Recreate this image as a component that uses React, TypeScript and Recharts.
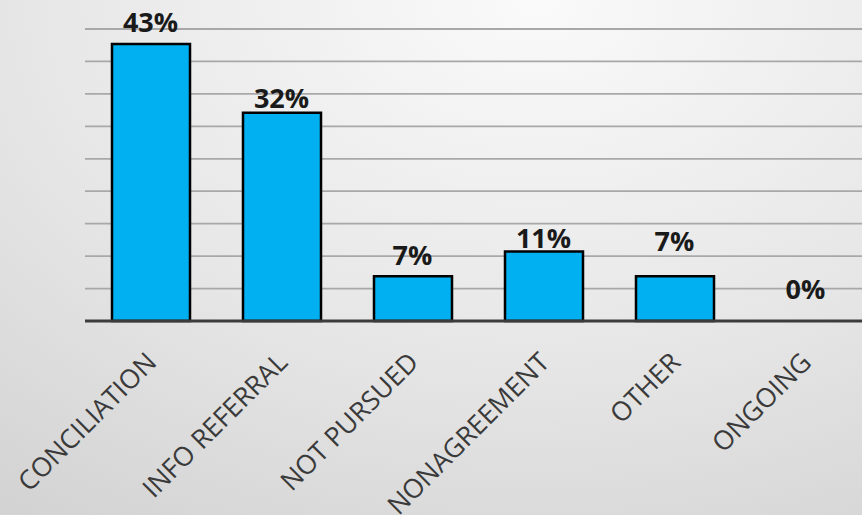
import React from "react";
import { ComposedChart, Bar, Line, XAxis, YAxis, CartesianGrid } from "recharts";

const CATEGORIES = ["CONCILIATION", "INFO REFERRAL", "NOT PURSUED", "NONAGREEMENT", "OTHER", "ONGOING"];
const SHARES = [42.7, 32.1, 6.9, 10.7, 6.9, 0];
const SHARE_LABELS = ["43%", "32%", "7%", "11%", "7%", "0%"];
const Y_TICKS = [0, 5, 10, 15, 20, 25, 30, 35, 40, 45];
// presentational nudge of each value label above its bar (px)
const LABEL_GAP = [12, 5, 11, 4, 25, 22];

const data = CATEGORIES.map((name, i) => ({ name, share: SHARES[i], label: SHARE_LABELS[i] }));

const FONT = "'Open Sans', 'DejaVu Sans', sans-serif";

const Tick = (props: any) => {
  const { x, y, payload } = props;
  const ax = x + 7.5;
  const ay = y + 43;
  return (
    <text
      x={ax}
      y={ay}
      transform={`rotate(-45, ${ax}, ${ay})`}
      textAnchor="end"
      fill="#3a3a3a"
      fontSize={26.5}
      fontFamily={FONT}
    >
      {payload.value}
    </text>
  );
};

const ValueLabel = (props: any) => {
  const { x, y, index } = props;
  return (
    <text
      x={x}
      y={y - LABEL_GAP[index]}
      textAnchor="middle"
      fill="#1a1a1a"
      fontSize={27}
      fontWeight={700}
      fontFamily={FONT}
    >
      {SHARE_LABELS[index]}
    </text>
  );
};

export default function App() {
  return (
    <div
      style={{
        position: "absolute",
        left: 0,
        top: 0,
        width: 862,
        height: 515,
        overflow: "hidden",
        background: "radial-gradient(ellipse 120% 140% at 62% 0%, #fafafa 0%, #e6e6e6 50%, #cccccc 100%)",
      }}
    >
      <ComposedChart width={880} height={515} data={data} margin={{ top: 29, right: 9, bottom: 0, left: 85 }}>
        <CartesianGrid vertical={false} stroke="#a8a8a8" strokeWidth={1.8} />
        <YAxis hide domain={[0, 45]} ticks={Y_TICKS} />
        <XAxis
          dataKey="name"
          height={194}
          tickSize={0}
          tickMargin={0}
          tickLine={false}
          axisLine={{ stroke: "#3c3c3c", strokeWidth: 3 }}
          tick={<Tick />}
          interval={0}
        />
        <Bar dataKey="share" fill="#00B0F0" stroke="#000000" strokeWidth={2.5} barSize={78} isAnimationActive={false} />
        <Line
          dataKey="share"
          stroke="none"
          dot={false}
          activeDot={false}
          legendType="none"
          isAnimationActive={false}
          label={<ValueLabel />}
        />
      </ComposedChart>
    </div>
  );
}
